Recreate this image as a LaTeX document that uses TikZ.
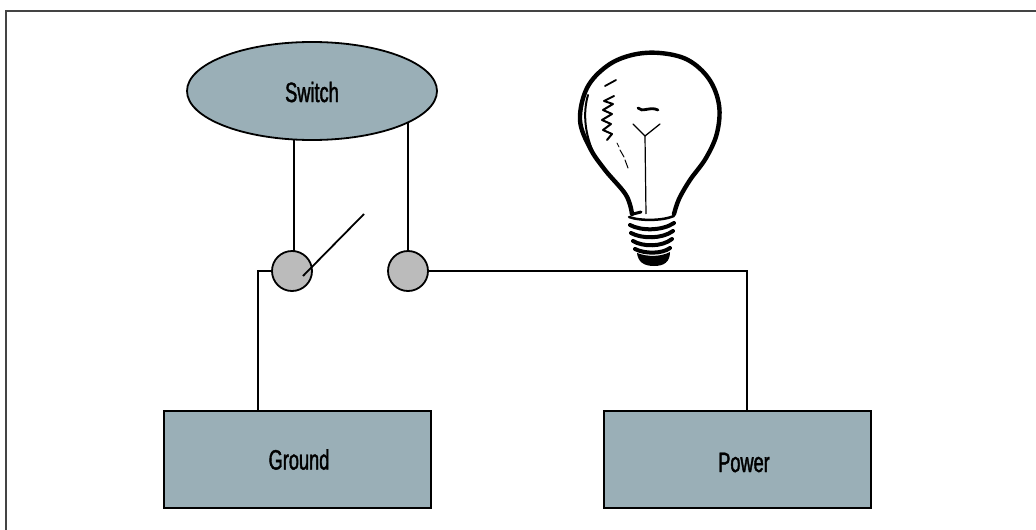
\documentclass[tikz,border=0pt]{standalone}
\usepackage{fontspec}
\setmainfont{Liberation Sans}[FakeStretch=0.65,FakeBold=1.4]
\usetikzlibrary{shapes.geometric,backgrounds}
\definecolor{boxfill}{HTML}{9AAFB7}
\definecolor{contactfill}{HTML}{BBBBBB}
\definecolor{framegray}{HTML}{444444}
\tikzset{
  wire/.style={line width=1.8pt, black},
  unitbox/.style={draw=black, line width=2pt, fill=boxfill, minimum width=267pt, minimum height=97pt, inner sep=0pt},
  switchbody/.style={ellipse, draw=black, line width=1.8pt, fill=boxfill, minimum width=250pt, minimum height=98pt, inner sep=0pt},
  contact/.style={circle, draw=black, line width=1.8pt, fill=contactfill, minimum size=40pt, inner sep=0pt},
  caption/.style={font=\fontsize{28}{30}\selectfont, inner sep=0pt},
  bulbline/.style={line width=4.4pt, line cap=round, line join=round},
}
\begin{document}
\begin{tikzpicture}[x=1pt,y=-1pt]
  \useasboundingbox (0,0) rectangle (1036,530);
  \clip (0,0) rectangle (1036,530);

  % page frame (only top and left edges fall inside the view)
  \draw[framegray, line width=2pt] (5.5,540) -- (5.5,11) -- (1046,11);

  % switch body and contacts
  \node[switchbody] (sw) at (312,91) {};
  \node[caption] (swlabel) at (312,92) {Switch};
  \node[contact] (lc) at (292,271) {};
  \node[contact] (rc) at (408,271) {};

  % ground and power units
  \node[unitbox] (gnd) at (297.5,459.5) {};
  \node[caption] (gndlabel) at (299,459.5) {Ground};
  \node[unitbox] (pwr) at (737.5,459.5) {};
  \node[caption] (pwrlabel) at (744,462.5) {Power};

  % wiring, kept behind the shapes
  \begin{pgfonlayer}{background}
    \draw[wire] ([xshift=2pt]lc.center) -- ([xshift=2pt]lc.center |- sw.center);
    \draw[wire] (rc.center) -- (rc.center |- sw.center);
    \draw[wire] (lc.west) -| ([xshift=-39.5pt]gnd.north);
    \draw[wire] (rc.east) -| ([xshift=9.5pt]pwr.north);
  \end{pgfonlayer}

  % open switch lever
  \draw[wire] (303,276) -- (364,214);

  % light bulb: glass outline
  \draw[bulbline] plot[smooth, tension=0.6] coordinates {
    (632,214) (626,195) (605,170) (590,148) (580,120) (587,88) (607,66)
    (632,55) (660,53) (688,60) (709,79) (719,105) (717,133) (706,158)
    (690,180) (679,199) (674,214)};
  \draw[line width=2pt, line cap=round] (588,95) .. controls (583,112) and (584,135) .. (596,158);

  % highlights on the glass
  \draw[line width=1.8pt, line cap=round, line join=round]
    (605,86) -- (616,80);
  \draw[line width=2pt, line cap=round, line join=round]
    (614,96) -- (604,101) -- (613,104) -- (603,110) -- (612,114) -- (602,120)
    -- (611,124) -- (603,130) -- (612,134) -- (607,140);
  \draw[line width=1pt, line cap=round] (620,150) -- (624,157);
  \draw[line width=1pt, line cap=round] (625,160) -- (628,168);
  \draw[line width=0.8pt, line cap=round] (617,143) -- (619,147);

  % filament
  \draw[line width=2.8pt, line cap=round] (638,108) .. controls (642,113) and (650,106) .. (658,110);
  \draw[line width=1.3pt, line cap=round, line join=round] (633,124) -- (645,136) -- (660,124);
  \draw[line width=1.2pt] (645,136) -- (646,214);
  \draw[line width=3pt, line cap=round] (633,214) -- (641,212);

  % screw base
  \draw[line width=2.5pt, line cap=round] (629,217) .. controls (640,221) and (662,221) .. (674,216);
  \draw[line width=4pt, line cap=round] (630,225) .. controls (641,231) and (662,231) .. (674,223);
  \draw[line width=4pt, line cap=round] (631,233) .. controls (642,239) and (662,239) .. (673,231);
  \draw[line width=4pt, line cap=round] (633,241) .. controls (643,247) and (662,247) .. (672,239);
  \draw[line width=4pt, line cap=round] (635,249) .. controls (645,254) and (662,254) .. (670,248);
  \fill (637,253) .. controls (648,257) and (660,257) .. (670,252)
    .. controls (670,262) and (664,266) .. (654,266)
    .. controls (644,266) and (638,262) .. cycle;
\end{tikzpicture}
\end{document}
